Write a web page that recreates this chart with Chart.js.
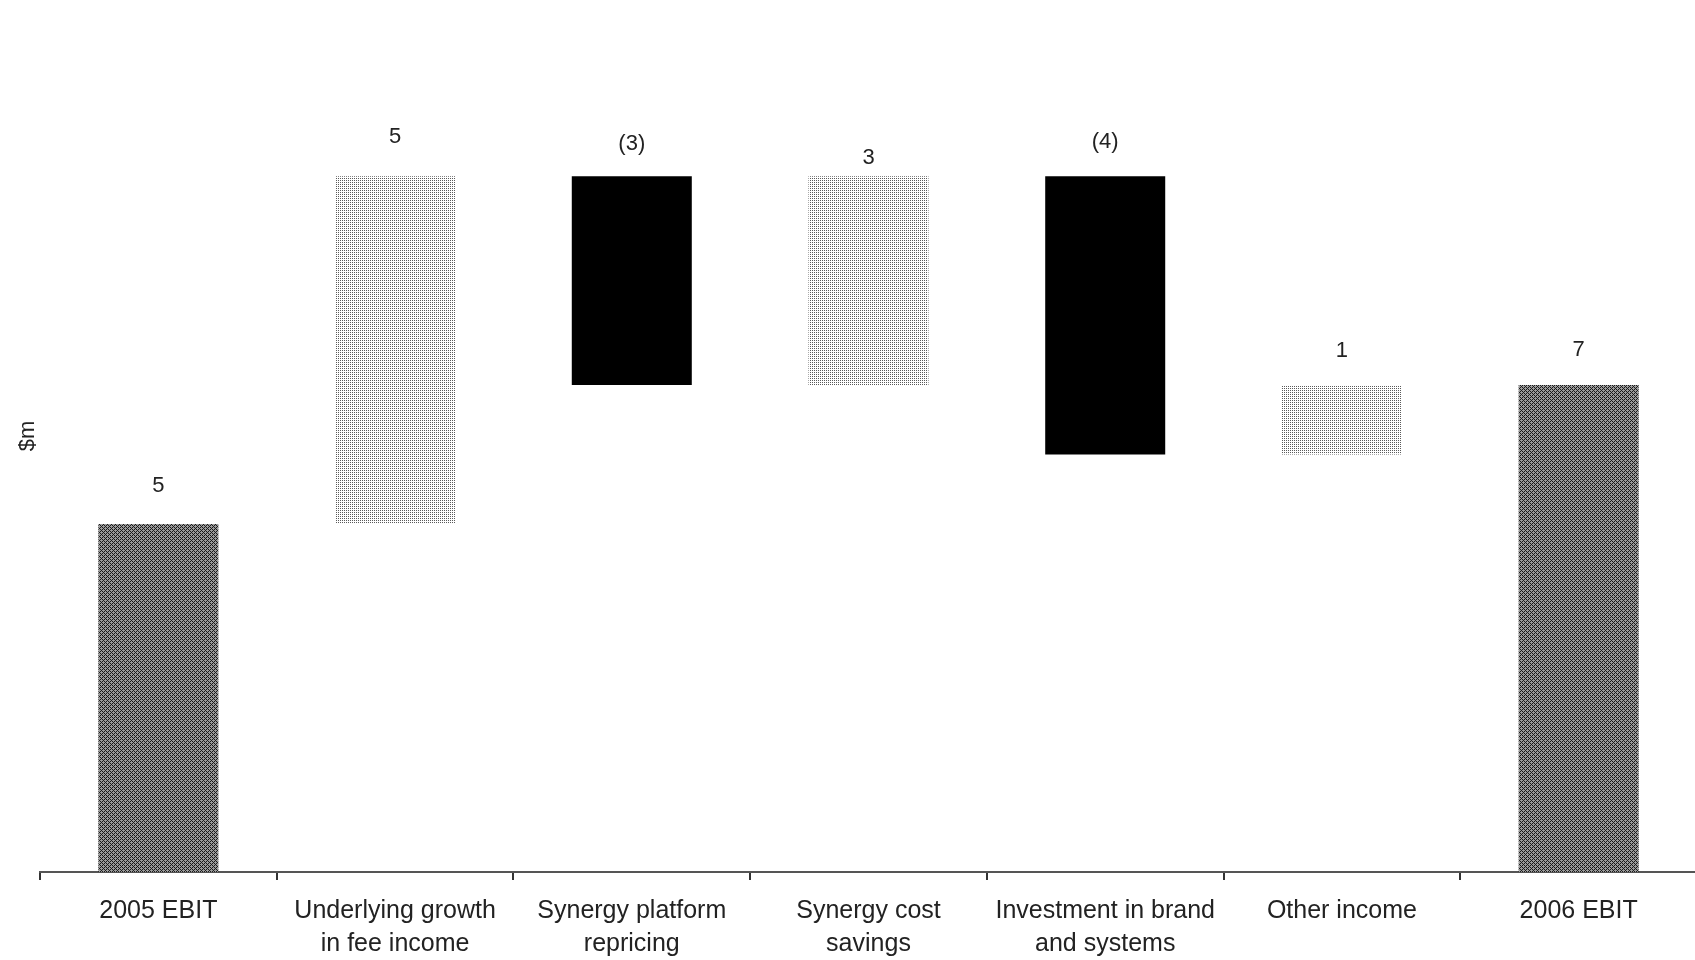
<!DOCTYPE html>
<html>
<head>
<meta charset="utf-8">
<title>EBIT bridge 2005-2006</title>
<script src="https://cdn.jsdelivr.net/npm/chart.js@4/dist/chart.umd.min.js"></script>
<style>
  html, body { margin: 0; padding: 0; background: #fff; overflow: hidden; }
  #wrap { width: 1700px; height: 975px; }
</style>
</head>
<body>
<div id="wrap"><canvas id="bridgeChart" width="1700" height="975"></canvas></div>
<script>
// categorias del puente de EBIT ($m)
var categorias = [
    "2005 EBIT",
    ["Underlying growth", "in fee income"],
    ["Synergy platform", "repricing"],
    ["Synergy cost", "savings"],
    ["Investment in brand", "and systems"],
    "Other income",
    "2006 EBIT"
];
// tipo de barra: total o variacion
var tipos = ["total", "delta", "delta", "delta", "delta", "delta", "total"];
var valores = [5, 5, -3, 3, -4, 1, 7];
var etiquetas = ["5", "5", "(3)", "3", "(4)", "1", "7"];
// altura del texto sobre cada barra (px)
var elevacion = [38, 39, 32, 18, 34, 34, 35];
var tituloEje = "$m";

// texturas de relleno
function trama(tam, fondo, puntos, colorPunto) {
    var c = document.createElement('canvas');
    c.width = tam; c.height = tam;
    var g = c.getContext('2d');
    g.fillStyle = fondo;
    g.fillRect(0, 0, tam, tam);
    g.fillStyle = colorPunto;
    puntos.forEach(function (p) { g.fillRect(p[0], p[1], 1, 1); });
    return g.createPattern(c, 'repeat');
}
var ctx = document.getElementById("bridgeChart").getContext('2d');
var rellenoTotal = trama(4, '#9a9a9a', [[0, 3], [1, 2], [2, 1], [3, 0], [0, 1], [2, 3]], '#1a1a1a');
var rellenoSube = trama(2, '#ffffff', [[0, 0]], '#5a5a5a');

// construyo las barras flotantes a partir de los valores
var acumulado = 0;
var barras = [];
var colores = [];
for (var i = 0; i < valores.length; i++) {
    if (tipos[i] === "total") {
        barras.push([0, valores[i]]);
        acumulado = valores[i];
        colores.push(rellenoTotal);
    } else {
        barras.push([acumulado, acumulado + valores[i]]);
        acumulado += valores[i];
        colores.push(valores[i] < 0 ? '#000000' : rellenoSube);
    }
}

// etiquetas encima de cada barra y titulo del eje vertical
var etiquetasPlugin = {
    id: 'etiquetas',
    afterDatasetsDraw: function (chart) {
        var meta = chart.getDatasetMeta(0);
        var c = chart.ctx;
        c.save();
        c.font = '22px "Liberation Sans", Arial, sans-serif';
        c.fillStyle = '#222';
        c.textAlign = 'center';
        c.textBaseline = 'middle';
        meta.data.forEach(function (bar, idx) {
            var arriba = Math.min(bar.y, bar.base);
            c.fillText(etiquetas[idx], bar.x, arriba - elevacion[idx]);
        });
        // $m girado a la izquierda
        c.translate(28, 436);
        c.rotate(-Math.PI / 2);
        c.fillText(tituloEje, 0, 0);
        c.restore();
    }
};

var grafico = new Chart(ctx, {
    type: 'bar',
    data: {
        labels: categorias,
        datasets: [{
            data: barras,
            backgroundColor: colores,
            borderWidth: 0,
            categoryPercentage: 1,
            barPercentage: 0.507
        }]
    },
    options: {
        responsive: false,
        animation: false,
        layout: {
            padding: { top: 37, right: 3, bottom: 0, left: 40 }
        },
        scales: {
            x: {
                grid: {
                    display: true,
                    drawOnChartArea: false,
                    drawTicks: true,
                    tickLength: 8,
                    color: '#333',
                    lineWidth: 2
                },
                border: { display: true, color: '#555', width: 2 },
                ticks: {
                    color: '#222',
                    padding: 15,
                    maxRotation: 0,
                    autoSkip: false,
                    font: { family: '"Liberation Sans", Arial, sans-serif', size: 25, lineHeight: 1.3 }
                }
            },
            y: {
                display: false,
                min: 0,
                max: 12
            }
        },
        plugins: {
            legend: { display: false },
            tooltip: { enabled: false }
        }
    },
    plugins: [etiquetasPlugin]
});
</script>
</body>
</html>
